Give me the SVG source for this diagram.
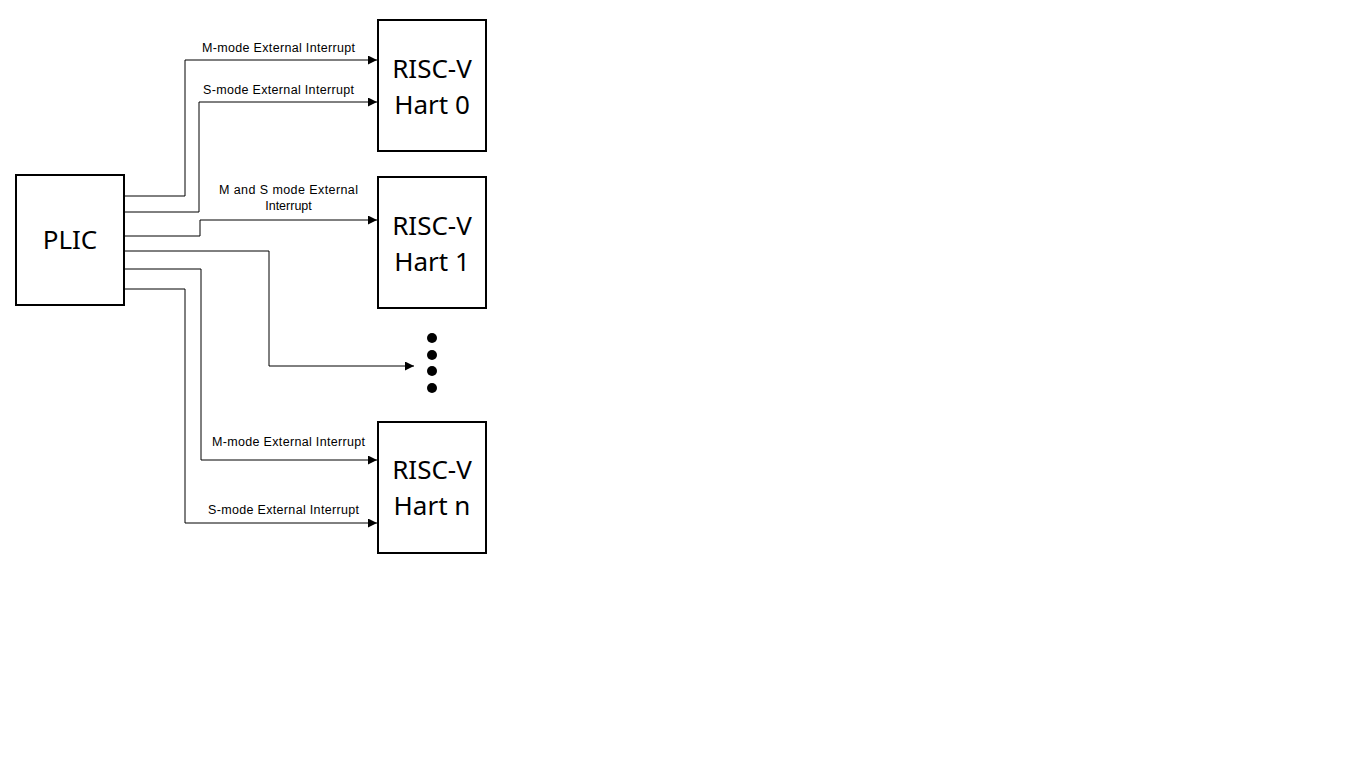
<svg xmlns="http://www.w3.org/2000/svg" width="1345" height="764" viewBox="0 0 1345 764">
<style>
.box{fill:#fff;stroke:#000;stroke-width:2}
.big{font-family:"Noto Sans","Open Sans",sans-serif;font-size:26px;fill:#000;text-anchor:middle}
.lbl{font-family:"Liberation Sans",Arial,sans-serif;font-size:12.5px;fill:#000;text-anchor:middle}
.wire{fill:none;stroke:#000;stroke-width:1}
</style>
<defs>
<marker id="ah" viewBox="0 0 10 10" refX="10" refY="5" markerWidth="9" markerHeight="9" markerUnits="userSpaceOnUse" orient="auto">
<path d="M0,0 L10,5 L0,10 Z" fill="#000"/>
</marker>
</defs>
<rect width="1345" height="764" fill="#fff"/>
<g id="connectors">
<polyline class="wire" points="124,196 185,196 185,60 377,60" marker-end="url(#ah)"/>
<polyline class="wire" points="124,212 199,212 199,102 377,102" marker-end="url(#ah)"/>
<polyline class="wire" points="124,236 200,236 200,220 377,220" marker-end="url(#ah)"/>
<polyline class="wire" points="124,251 269,251 269,366 414,366" marker-end="url(#ah)"/>
<polyline class="wire" points="124,269 201,269 201,460 377,460" marker-end="url(#ah)"/>
<polyline class="wire" points="124,289 185,289 185,523 377,523" marker-end="url(#ah)"/>
<text class="lbl" x="278.5" y="52" textLength="153" lengthAdjust="spacing">M-mode External Interrupt</text>
<text class="lbl" x="278.5" y="94" textLength="151" lengthAdjust="spacing">S-mode External Interrupt</text>
<text class="lbl" x="288.5" y="194" textLength="139" lengthAdjust="spacing">M and S mode External</text>
<text class="lbl" x="288.5" y="210">Interrupt</text>
<text class="lbl" x="288.5" y="446" textLength="153" lengthAdjust="spacing">M-mode External Interrupt</text>
<text class="lbl" x="283.5" y="514" textLength="151" lengthAdjust="spacing">S-mode External Interrupt</text>
</g>
<g id="plic">
<rect class="box" x="16" y="175" width="108" height="130"/>
<text class="big" x="70" y="249">PLIC</text>
</g>
<g id="hart0">
<rect class="box" x="378" y="20" width="108" height="131"/>
<text class="big" x="432" y="78">RISC-V</text>
<text class="big" x="432" y="114">Hart 0</text>
</g>
<g id="hart1">
<rect class="box" x="378" y="177" width="108" height="131"/>
<text class="big" x="432" y="235">RISC-V</text>
<text class="big" x="432" y="271">Hart 1</text>
</g>
<g id="dots">
<circle cx="432" cy="338" r="5" fill="#000"/>
<circle cx="432" cy="355" r="5" fill="#000"/>
<circle cx="432" cy="371" r="5" fill="#000"/>
<circle cx="432" cy="388" r="5" fill="#000"/>
</g>
<g id="hartn">
<rect class="box" x="378" y="422" width="108" height="131"/>
<text class="big" x="432" y="479">RISC-V</text>
<text class="big" x="432" y="515">Hart n</text>
</g>
</svg>
